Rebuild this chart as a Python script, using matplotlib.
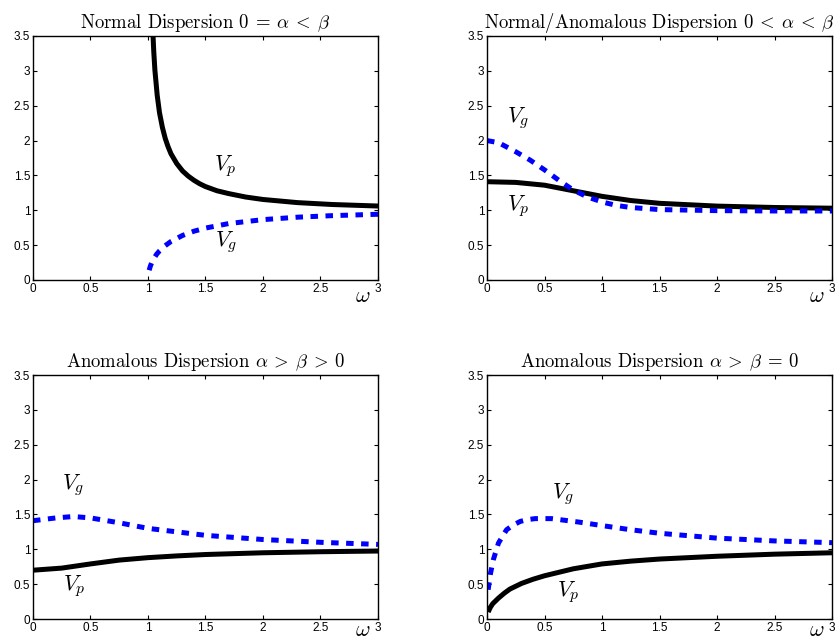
import matplotlib
matplotlib.use("Agg")
import matplotlib.pyplot as plt

plt.rcParams["mathtext.fontset"] = "cm"
plt.rcParams["font.family"] = ["Liberation Sans", "DejaVu Sans"]

# panel 1: normal dispersion 0 = alpha < beta
w1_p = [1.04, 1.05, 1.06, 1.08, 1.10, 1.125, 1.15, 1.175, 1.20, 1.25, 1.30, 1.35, 1.40, 1.45,
        1.50, 1.60, 1.70, 1.85, 2.00, 2.30, 2.60, 3.00]
vp1 = [3.64, 3.28, 3.01, 2.65, 2.40, 2.19, 2.03, 1.91, 1.81, 1.67, 1.565, 1.49, 1.43, 1.38,
       1.34, 1.28, 1.24, 1.19, 1.155, 1.11, 1.083, 1.061]
w1_g = [1.01, 1.02, 1.035, 1.05, 1.075, 1.10, 1.15, 1.20, 1.30, 1.40, 1.50, 1.70, 2.00, 2.30, 2.60, 3.00]
vg1 = [0.14, 0.197, 0.26, 0.305, 0.37, 0.417, 0.493, 0.553, 0.639, 0.70, 0.745, 0.809, 0.866,
       0.901, 0.923, 0.943]

# panel 2: normal/anomalous 0 < alpha < beta
w2_p = [0.0, 0.25, 0.5, 0.625, 0.75, 0.875, 1.0, 1.25, 1.5, 1.75, 2.0, 2.5, 3.0]
vp2 = [1.41, 1.40, 1.36, 1.32, 1.28, 1.24, 1.20, 1.14, 1.10, 1.08, 1.06, 1.04, 1.03]
w2_g = [0.0, 0.1, 0.25, 0.375, 0.5, 0.625, 0.75, 0.875, 1.0, 1.125, 1.25, 1.5, 2.0, 2.5, 3.0]
vg2 = [2.0, 1.97, 1.84, 1.72, 1.58, 1.43, 1.29, 1.19, 1.12, 1.07, 1.04, 1.01, 0.995, 0.99, 0.99]

# panel 3: anomalous alpha > beta > 0
w3_p = [0.0, 0.25, 0.5, 0.75, 1.0, 1.25, 1.5, 2.0, 2.5, 3.0]
vp3 = [0.70, 0.73, 0.79, 0.845, 0.88, 0.905, 0.925, 0.95, 0.965, 0.975]
w3_g = [0.0, 0.2, 0.35, 0.5, 0.75, 1.0, 1.25, 1.5, 2.0, 2.5, 3.0]
vg3 = [1.41, 1.45, 1.47, 1.45, 1.38, 1.30, 1.25, 1.20, 1.14, 1.10, 1.07]

# panel 4: anomalous alpha > beta = 0
w4_p = [0.01, 0.03, 0.05, 0.075, 0.1, 0.15, 0.2, 0.3, 0.4, 0.5, 0.75, 1.0, 1.25, 1.5, 2.0, 2.5, 3.0]
vp4 = [0.10, 0.17, 0.22, 0.26, 0.30, 0.37, 0.43, 0.51, 0.57, 0.62, 0.72, 0.79, 0.83, 0.86,
       0.90, 0.93, 0.95]
w4_g = [0.01, 0.03, 0.055, 0.1, 0.17, 0.23, 0.29, 0.35, 0.42, 0.56, 0.8, 1.0, 1.25, 1.5, 2.0, 2.5, 3.0]
vg4 = [0.42, 0.65, 0.85, 1.09, 1.28, 1.35, 1.40, 1.425, 1.44, 1.44, 1.39, 1.34, 1.28, 1.23,
       1.16, 1.12, 1.095]

titles = [
    r"Normal Dispersion $0\:=\:\alpha\:<\:\beta$",
    r"Normal/Anomalous Dispersion $0\:<\:\alpha\:<\:\beta$",
    r"Anomalous Dispersion $\alpha\:>\:\beta\:>\:0$",
    r"Anomalous Dispersion $\alpha\:>\:\beta\:=\:0$",
]
# label anchors (data coords): (x_vp, y_vp, x_vg, y_vg)
label_pos = [
    (1.57, 1.63, 1.58, 0.55),
    (0.17, 1.06, 0.17, 2.33),
    (0.26, 0.48, 0.25, 1.92),
    (0.61, 0.38, 0.565, 1.79),
]
omega_y = [-0.24, -0.24, -0.17, -0.17]

curves = [(w1_p, vp1, w1_g, vg1), (w2_p, vp2, w2_g, vg2),
          (w3_p, vp3, w3_g, vg3), (w4_p, vp4, w4_g, vg4)]

W, H = 840, 641
fig = plt.figure(figsize=(8.4, 6.41), dpi=100)
rects = [(33, 36), (487, 36), (33, 375), (487, 375)]
aw, ah = 345, 244

for i, (l, t) in enumerate(rects):
    ax = fig.add_axes([l / W, (H - t - ah) / H, aw / W, ah / H])
    wp, vp, wg, vg = curves[i]
    ax.plot(wp, vp, color="black", lw=3.6, solid_capstyle="butt", solid_joinstyle="round")
    ax.plot(wg, vg, color="blue", lw=3.6, dashes=(1.5, 1.5), dash_capstyle="butt")
    ax.set_xlim(0, 3)
    ax.set_ylim(0, 3.5)
    ax.set_xticks([0, 0.5, 1, 1.5, 2, 2.5, 3])
    ax.set_xticklabels(["0", "0.5", "1", "1.5", "2", "2.5", "3"])
    ax.set_yticks([0, 0.5, 1, 1.5, 2, 2.5, 3, 3.5])
    ax.set_yticklabels(["0", "0.5", "1", "1.5", "2", "2.5", "3", "3.5"])
    ax.tick_params(direction="in", length=3, width=0.8, top=True, right=True,
                   labelsize=8.5, pad=2)
    for s in ax.spines.values():
        s.set_linewidth(1.0)
    ax.set_title(titles[i], fontfamily="cmr10", fontsize=13.5, pad=6)
    xp, yp, xg, yg = label_pos[i]
    ax.text(xp, yp, r"$V_p$", fontsize=16, ha="left", va="center")
    ax.text(xg, yg, r"$V_g$", fontsize=16, ha="left", va="center")
    ax.text(2.87, omega_y[i], r"$\omega$", fontsize=16, ha="center", va="center",
            clip_on=False)

fig.savefig("out.png", dpi=100)
